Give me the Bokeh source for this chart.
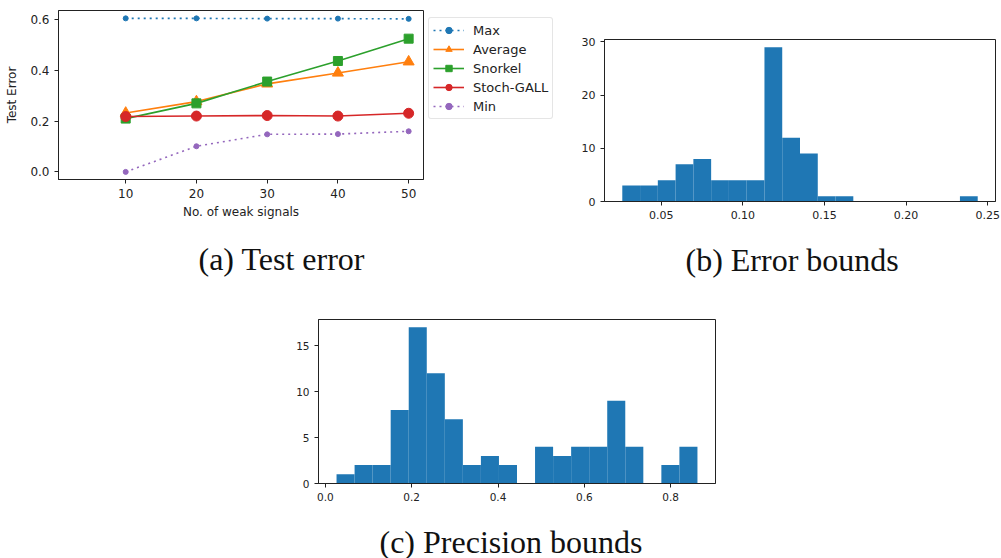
import numpy as np
from bokeh.plotting import figure
from bokeh.layouts import column, row
from bokeh.models import Range1d, Legend, LegendItem, Title, FixedTicker
from bokeh.embed import file_html
from bokeh.resources import INLINE

# ---- data ----
signals = [10, 20, 30, 40, 50]
err_max = [0.605, 0.605, 0.604, 0.604, 0.603]
err_avg = [0.232, 0.277, 0.347, 0.390, 0.434]
err_snorkel = [0.210, 0.270, 0.356, 0.437, 0.525]
err_stoch = [0.218, 0.220, 0.222, 0.220, 0.231]
err_min = [0.0, 0.101, 0.148, 0.149, 0.160]

eb_start, eb_end = 0.0261, 0.2439
eb_counts = [3, 3, 4, 7, 8, 4, 4, 4, 29, 12, 9, 1, 1, 0, 0, 0, 0, 0, 0, 1]
pb_start, pb_end = 0.026, 0.862
pb_counts = [1, 2, 2, 8, 17, 12, 7, 2, 3, 2, 0, 4, 3, 4, 4, 9, 4, 0, 2, 4]

a_yticks = [0.0, 0.2, 0.4, 0.6]
b_xticks = [0.05, 0.10, 0.15, 0.20, 0.25]
b_yticks = [0, 10, 20, 30]
c_xticks = [0.0, 0.2, 0.4, 0.6, 0.8]
c_yticks = [0, 5, 10, 15]

BLUE, ORANGE, GREEN, RED, PURPLE = "#1f77b4", "#ff7f0e", "#2ca02c", "#d62728", "#9467bd"
TXT = "#222222"


def style(p, fs):
    p.xgrid.visible = False
    p.ygrid.visible = False
    p.outline_line_color = "#222222"
    p.outline_line_width = 1
    p.background_fill_color = "white"
    p.border_fill_color = "white"
    for ax in (p.xaxis[0], p.yaxis[0]):
        ax.axis_line_color = "#222222"
        ax.major_tick_line_color = "#222222"
        ax.major_tick_out = 4
        ax.major_tick_in = 0
        ax.minor_tick_line_color = None
        ax.major_label_text_font = "DejaVu Sans"
        ax.major_label_text_font_size = fs
        ax.major_label_text_color = TXT
        ax.major_label_standoff = 5
        ax.axis_label_text_font = "DejaVu Sans"
        ax.axis_label_text_font_size = fs
        ax.axis_label_text_font_style = "normal"
        ax.axis_label_text_color = TXT


def caption(p, text, offset, standoff):
    t = Title(text=text, align="left", text_font="Liberation Serif",
              text_font_size="32px", text_font_style="normal",
              text_color="#111111", offset=offset, standoff=standoff)
    p.add_layout(t, "below")


def ticks(ax, vals, fmt):
    ax.ticker = FixedTicker(ticks=vals)
    ax.major_label_overrides = {v: fmt.format(v) for v in vals}


# ---- (a) Test error ----
pa = figure(frame_width=365, frame_height=169, min_border_left=58, min_border_top=10,
            min_border_right=5, min_border_bottom=116,
            x_range=Range1d(0.5, 52.1), y_range=Range1d(-0.03, 0.636),
            output_backend="svg", toolbar_location=None)
style(pa, "12px")
ticks(pa.xaxis[0], signals, "{:d}")
ticks(pa.yaxis[0], a_yticks, "{:.1f}")
pa.xaxis[0].axis_label = "No. of weak signals"
pa.yaxis[0].axis_label = "Test Error"
pa.xaxis[0].axis_label_standoff = 4
pa.yaxis[0].axis_label_standoff = 8

# legend lives in its own small panel to the right of (a);
# its proxy renderers use the same data but fall outside that panel's ranges
pl = figure(width=145, height=295, min_border_left=0, min_border_right=0,
            min_border_top=17, min_border_bottom=0,
            x_range=Range1d(0, 1), y_range=Range1d(5, 6),
            x_axis_location=None, y_axis_location=None,
            output_backend="svg", toolbar_location=None)
pl.xgrid.visible = False
pl.ygrid.visible = False
pl.outline_line_color = None

items = []
series = [
    ("Max", err_max, BLUE, "dots", "circle", 5),
    ("Average", err_avg, ORANGE, "solid", "triangle", 11),
    ("Snorkel", err_snorkel, GREEN, "solid", "square", 9),
    ("Stoch-GALL", err_stoch, RED, "solid", "circle", 10),
    ("Min", err_min, PURPLE, "dots", "circle", 5),
]
for name, ys, col, ls, mk, sz in series:
    dash = "2 4" if ls == "dots" else "solid"
    pa.line(signals, ys, line_color=col, line_width=1.6, line_dash=dash)
    pa.scatter(signals, ys, marker=mk, size=sz, fill_color=col, line_color=col)
    l1 = pl.line(signals, ys, line_color=col, line_width=1.6, line_dash=dash)
    l2 = pl.scatter(signals, ys, marker=mk, size=sz, fill_color=col, line_color=col)
    items.append(LegendItem(label=name, renderers=[l1, l2]))

leg = Legend(items=items, location="top_left", margin=0, padding=4, spacing=3,
             label_text_font="DejaVu Sans", label_text_font_size="13px",
             label_text_color=TXT, glyph_width=31, glyph_height=16, label_height=16,
             label_standoff=9, border_line_color="#cccccc", border_line_width=1,
             border_radius=3, background_fill_alpha=0.8)
pl.add_layout(leg)
caption(pa, "(a) Test error", 140, 35)

# ---- (b) Error bounds ----
pb = figure(frame_width=391, frame_height=162, min_border_left=31, min_border_top=39,
            min_border_right=6, min_border_bottom=94,
            x_range=Range1d(0.0152, 0.2548), y_range=Range1d(0, 30.45),
            output_backend="svg", toolbar_location=None)
style(pb, "11px")
ticks(pb.xaxis[0], b_xticks, "{:.2f}")
ticks(pb.yaxis[0], b_yticks, "{:d}")
eb_edges = np.linspace(eb_start, eb_end, len(eb_counts) + 1)
pb.quad(left=eb_edges[:-1], right=eb_edges[1:], bottom=0, top=eb_counts,
        fill_color=BLUE, line_color=None)
caption(pb, "(b) Error bounds", 81, 36)

# ---- (c) Precision bounds ----
pc = figure(frame_width=397, frame_height=164, min_border_left=318, min_border_top=24,
            min_border_right=286, min_border_bottom=75,
            x_range=Range1d(-0.0158, 0.9038), y_range=Range1d(0, 17.85),
            output_backend="svg", toolbar_location=None)
style(pc, "10.5px")
ticks(pc.xaxis[0], c_xticks, "{:.1f}")
ticks(pc.yaxis[0], c_yticks, "{:d}")
pb_edges = np.linspace(pb_start, pb_end, len(pb_counts) + 1)
pc.quad(left=pb_edges[:-1], right=pb_edges[1:], bottom=0, top=pb_counts,
        fill_color=BLUE, line_color=None)
caption(pc, "(c) Precision bounds", 61, 37)

layout = column(row(column(pa), column(pl), column(pb)), column(pc))
open("out.html", "w").write(file_html(layout, INLINE))
